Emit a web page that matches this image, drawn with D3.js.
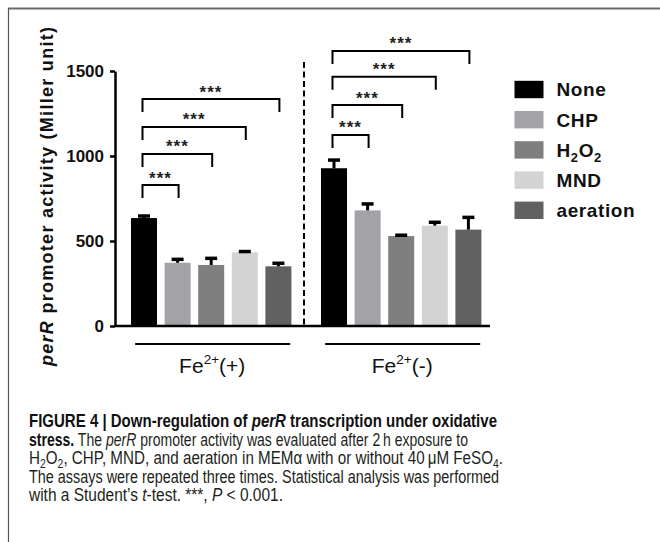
<!DOCTYPE html>
<html>
<head>
<meta charset="utf-8">
<script src="https://cdn.jsdelivr.net/npm/d3@7"></script>
<style>
  html, body { margin: 0; padding: 0; background: #fff; }
  svg { display: block; }
</style>
</head>
<body>
<svg id="chart" width="660" height="542"></svg>
<script>
// ---------- data ----------
const groups = ["plus", "minus"];
const groupSign = ["(+)", "(-)"];
const treatments = ["None", "CHP", "H2O2", "MND", "aeration"];
const fePlusValues = [635, 372, 359, 433, 351];
const fePlusErrors = [12, 20, 39, 5, 18];
const feMinusValues = [928, 680, 529, 590, 567];
const feMinusErrors = [48, 38, 5, 20, 72];
const fePlusBrackets = [829, 1012, 1171, 1335];   // None vs CHP, H2O2, MND, aeration
const feMinusBrackets = [1124, 1300, 1466, 1618];
const yTicks = [0, 500, 1000, 1500];
const colors = ["#000000", "#a2a2a7", "#7f7f7f", "#d3d3d3", "#616161"];

// ---------- layout ----------
const svg = d3.select("#chart");
const axisLeftX = 115, axisRightX = 490;
const y = d3.scaleLinear().domain([0, 1500]).range([326, 71]);
const xGroup = d3.scaleBand().domain(groups).range([127.2, 485.2]).paddingInner(0.1158).paddingOuter(0);
const xInner = d3.scaleBand().domain(treatments).range([0, xGroup.bandwidth()]).paddingInner(0.226).paddingOuter(0.113);
const color = d3.scaleOrdinal().domain(treatments).range(colors);

// frame
svg.append("line").attr("x1", 8).attr("x2", 660).attr("y1", 8.5).attr("y2", 8.5)
  .attr("stroke", "#6a6a6a").attr("stroke-width", 2);
svg.append("line").attr("x1", 8.5).attr("x2", 8.5).attr("y1", 8).attr("y2", 542)
  .attr("stroke", "#555").attr("stroke-width", 1.2);

const data = [
  {g: "plus", values: fePlusValues, errors: fePlusErrors, brackets: fePlusBrackets},
  {g: "minus", values: feMinusValues, errors: feMinusErrors, brackets: feMinusBrackets}
];

const cx = (g, t) => xGroup(g) + xInner(t) + xInner.bandwidth() / 2;

// bars
data.forEach(d => {
  const gEl = svg.append("g");
  gEl.selectAll("rect").data(treatments).join("rect")
    .attr("x", t => xGroup(d.g) + xInner(t))
    .attr("width", xInner.bandwidth())
    .attr("y", (t, i) => y(d.values[i]))
    .attr("height", (t, i) => y(0) - y(d.values[i]))
    .attr("fill", t => color(t));
  // error bars (upper only)
  gEl.selectAll("line.stem").data(treatments).join("line").attr("class", "stem")
    .attr("x1", t => cx(d.g, t)).attr("x2", t => cx(d.g, t))
    .attr("y1", (t, i) => y(d.values[i])).attr("y2", (t, i) => y(d.values[i] + d.errors[i]))
    .attr("stroke", "#000").attr("stroke-width", 3);
  gEl.selectAll("line.cap").data(treatments).join("line").attr("class", "cap")
    .attr("x1", t => cx(d.g, t) - 6).attr("x2", t => cx(d.g, t) + 6)
    .attr("y1", (t, i) => y(d.values[i] + d.errors[i])).attr("y2", (t, i) => y(d.values[i] + d.errors[i]))
    .attr("stroke", "#000").attr("stroke-width", 3.5);

  // significance brackets
  d.brackets.forEach((bv, k) => {
    const x1 = cx(d.g, treatments[0]) - 1.5;
    const x2 = cx(d.g, treatments[k + 1]) + 1;
    const yy = y(bv);
    svg.append("path")
      .attr("d", `M${x1},${yy + 13}V${yy}H${x2}V${yy + 13}`)
      .attr("fill", "none").attr("stroke", "#000").attr("stroke-width", 2);
    svg.append("text")
      .attr("x", (x1 + x2) / 2).attr("y", yy - 1.5)
      .attr("text-anchor", "middle")
      .attr("font-family", "Liberation Sans, Arial, sans-serif")
      .attr("font-weight", "bold").attr("font-size", 17)
      .attr("letter-spacing", 1)
      .attr("fill", "#222")
      .text("***");
  });

  // group underline + label
  const gx = xGroup(d.g), bw = xGroup.bandwidth();
  svg.append("line").attr("x1", gx + 8).attr("x2", gx + bw - 5)
    .attr("y1", 344).attr("y2", 344).attr("stroke", "#000").attr("stroke-width", 2.2);
  const lab = svg.append("text")
    .attr("x", gx + bw / 2 + 1).attr("y", 372.5)
    .attr("text-anchor", "middle")
    .attr("font-family", "Liberation Sans, Arial, sans-serif")
    .attr("font-size", 21).attr("fill", "#111");
  lab.append("tspan").text("Fe");
  lab.append("tspan").attr("font-size", 13.5).attr("dy", -9).text("2+");
  lab.append("tspan").attr("dy", 9).text(groupSign[groups.indexOf(d.g)]);
});

// dashed divider
svg.append("line").attr("x1", 304).attr("x2", 304).attr("y1", 62).attr("y2", 326)
  .attr("stroke", "#000").attr("stroke-width", 2).attr("stroke-dasharray", "6,3.5");

// y axis
const yAxis = svg.append("g").attr("transform", `translate(${axisLeftX},0)`)
  .call(d3.axisLeft(y).tickValues(yTicks).tickFormat(d3.format("d"))
    .tickSize(5).tickSizeOuter(0).tickPadding(6));
yAxis.select(".domain").attr("stroke-width", 2.5);
yAxis.selectAll(".tick line").attr("stroke-width", 2.5);
yAxis.selectAll(".tick text")
  .attr("font-family", "Liberation Sans, Arial, sans-serif")
  .attr("font-weight", "bold").attr("font-size", 17).attr("fill", "#111");

// x axis baseline
svg.append("line").attr("x1", axisLeftX - 1).attr("x2", axisRightX)
  .attr("y1", y(0)).attr("y2", y(0)).attr("stroke", "#000").attr("stroke-width", 2.5);

// y label
const yl = svg.append("text")
  .attr("transform", "translate(53,196.5) rotate(-90)")
  .attr("text-anchor", "middle")
  .attr("font-family", "Liberation Sans, Arial, sans-serif")
  .attr("font-weight", "bold").attr("font-size", 18).attr("fill", "#111")
  .attr("textLength", 339).attr("lengthAdjust", "spacing");
yl.append("tspan").attr("font-style", "italic").text("perR");
yl.append("tspan").text(" promoter activity (Miller unit)");

// legend
const leg = svg.append("g");
treatments.forEach((t, i) => {
  const cy = 89.5 + i * 30.2;
  leg.append("rect").attr("x", 514.5).attr("y", cy - 8.7).attr("width", 29).attr("height", 17.4)
    .attr("fill", color(t));
  const tx = leg.append("text").attr("x", 556.5).attr("y", cy).attr("dy", "0.36em")
    .attr("font-family", "Liberation Sans, Arial, sans-serif")
    .attr("font-weight", "bold").attr("font-size", 19).attr("fill", "#111")
    .attr("letter-spacing", 0.6);
  if (t === "H2O2") {
    tx.append("tspan").text("H");
    tx.append("tspan").attr("font-size", 13).attr("dy", 5).text("2");
    tx.append("tspan").attr("dy", -5).text("O");
    tx.append("tspan").attr("font-size", 13).attr("dy", 5).text("2");
  } else {
    tx.text(t);
  }
});

// caption
const capFont = "'Liberation Sans Narrow', 'Liberation Sans', Arial, sans-serif";
const capLines = [
  {y: 427, len: 468, parts: [
    {t: "FIGURE 4 | Down-regulation of ", w: "bold"},
    {t: "perR", w: "bold", s: "italic"},
    {t: " transcription under oxidative", w: "bold"}]},
  {y: 445.5, len: 439, parts: [
    {t: "stress.", w: "bold"},
    {t: " The "},
    {t: "perR", s: "italic"},
    {t: " promoter activity was evaluated after 2\u2009h exposure to"}]},
  {y: 464, len: 474, parts: [
    {t: "H"}, {t: "2", sub: true}, {t: "O"}, {t: "2", sub: true},
    {t: ", CHP, MND, and aeration in MEM\u03b1 with or without 40\u2009\u03bcM FeSO"},
    {t: "4", sub: true}, {t: "."}]},
  {y: 482.5, len: 470, parts: [
    {t: "The assays were repeated three times. Statistical analysis was performed"}]},
  {y: 501, len: 254, parts: [
    {t: "with a Student\u2019s "}, {t: "t", s: "italic"}, {t: "-test. ***, "},
    {t: "P", s: "italic"}, {t: " < 0.001."}]}
];
capLines.forEach(line => {
  const tx = svg.append("text").attr("x", 29).attr("y", line.y)
    .attr("font-family", capFont).attr("font-size", 17.5).attr("fill", "#231f20")
    .attr("textLength", line.len).attr("lengthAdjust", "spacingAndGlyphs");
  let shifted = false;
  line.parts.forEach(p => {
    const ts = tx.append("tspan").text(p.t);
    if (p.w) ts.attr("font-weight", p.w).attr("fill", "#111");
    if (p.s) ts.attr("font-style", p.s);
    if (p.sub) { ts.attr("font-size", 12).attr("dy", shifted ? 0 : 4); shifted = true; }
    else if (shifted) { ts.attr("dy", -4); shifted = false; }
  });
});
</script>
</body>
</html>
